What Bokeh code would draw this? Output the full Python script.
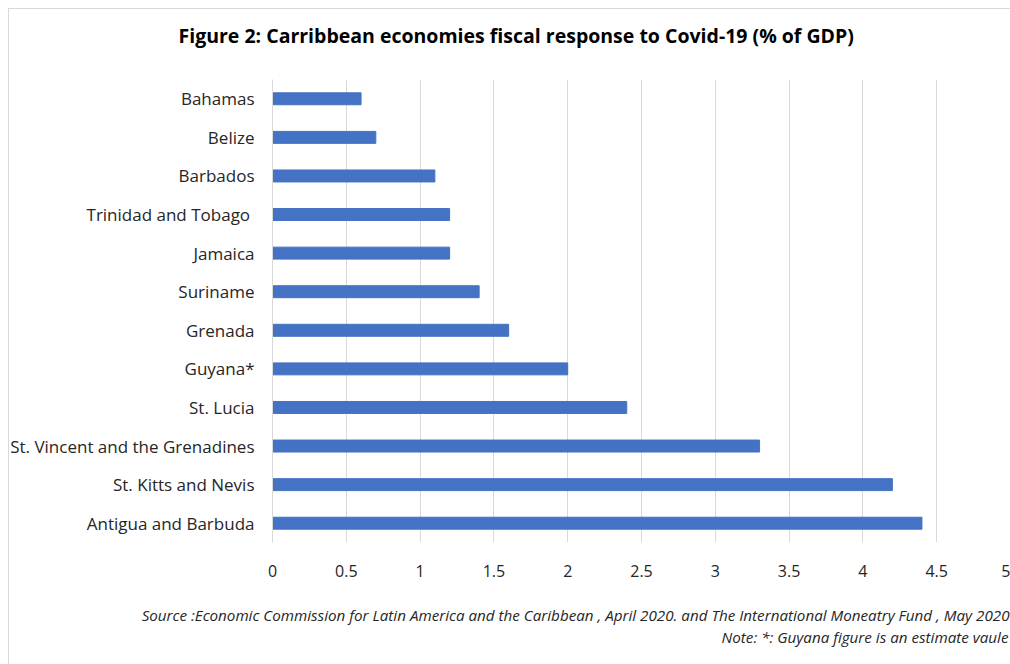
from bokeh.plotting import figure
from bokeh.models import Title, FixedTicker, InlineStyleSheet
from bokeh.embed import file_html
from bokeh.resources import INLINE

countries = ["Antigua and Barbuda", "St. Kitts and Nevis", "St. Vincent and the Grenadines",
             "St. Lucia", "Guyana*", "Grenada", "Suriname", "Jamaica",
             "Trinidad and Tobago ", "Barbados", "Belize", "Bahamas"]
values = [4.4, 4.2, 3.3, 2.4, 2.0, 1.6, 1.4, 1.2, 1.2, 1.1, 0.7, 0.6]
x_ticks = [0, 0.5, 1, 1.5, 2, 2.5, 3, 3.5, 4, 4.5, 5]

title_text = "Figure 2: Carribbean economies fiscal response to Covid-19 (% of GDP)"
source_text = "Source :Economic Commission for Latin America and the Caribbean , April 2020. and The International Moneatry Fund , May 2020"
note_text = "Note: *: Guyana figure is an estimate vaule"

FONT = "Open Sans"

frame_css = InlineStyleSheet(css="""
:host { position: relative; }
:host::after { content: ''; position: absolute; left: 8px; top: 8px; right: 0px; bottom: 0px;
  border-left: 1px solid #d9d9d9; border-top: 1px solid #d9d9d9; pointer-events: none; }
""")

p = figure(width=1010, height=664, y_range=countries, x_range=(0, 5.0),
           output_backend="svg", toolbar_location=None, title=None,
           min_border_left=272, min_border_right=0, min_border_top=79, min_border_bottom=122,
           stylesheets=[frame_css])
p.outline_line_color = None
p.background_fill_color = "white"
p.border_fill_color = "white"

p.hbar(y=countries, right=values, height=0.31, color="#4472C4", line_color="#4472C4")

p.xgrid.grid_line_color = "#d9d9d9"
p.xgrid.ticker = FixedTicker(ticks=x_ticks)
p.ygrid.grid_line_color = None

p.xaxis.ticker = FixedTicker(ticks=x_ticks)
p.xaxis.axis_line_color = None
p.xaxis.major_tick_line_color = None
p.xaxis.minor_tick_line_color = None
p.xaxis.major_label_text_font = FONT
p.xaxis.major_label_text_font_size = "16px"
p.xaxis.major_label_text_color = "#262626"
p.xaxis.major_label_standoff = 16

p.yaxis.axis_line_color = "#d9d9d9"
p.yaxis.major_tick_line_color = None
p.yaxis.minor_tick_line_color = None
p.yaxis.major_label_text_font = FONT
p.yaxis.major_label_text_font_size = "17px"
p.yaxis.major_label_text_color = "#262626"
p.yaxis.major_label_standoff = 12

# top: spacer then title (later additions sit farther from the frame)
p.add_layout(Title(text=" ", text_font_size="24px", standoff=0), "above")
p.add_layout(Title(text=title_text, align="left", offset=-94, text_font=FONT,
                   text_font_style="bold", text_font_size="19.5px", text_color="black",
                   standoff=4), "above")

# bottom: spacer, source line, note line
p.add_layout(Title(text=" ", text_font_size="19px", standoff=0), "below")
p.add_layout(Title(text=source_text, align="right", offset=1, text_font=FONT,
                   text_font_style="italic", text_font_size="15.2px", text_color="#262626",
                   standoff=0), "below")
p.add_layout(Title(text=note_text, align="right", offset=2, text_font=FONT,
                   text_font_style="italic", text_font_size="15.2px", text_color="#262626",
                   standoff=0), "below")

open("out.html", "w").write(file_html(p, INLINE))
